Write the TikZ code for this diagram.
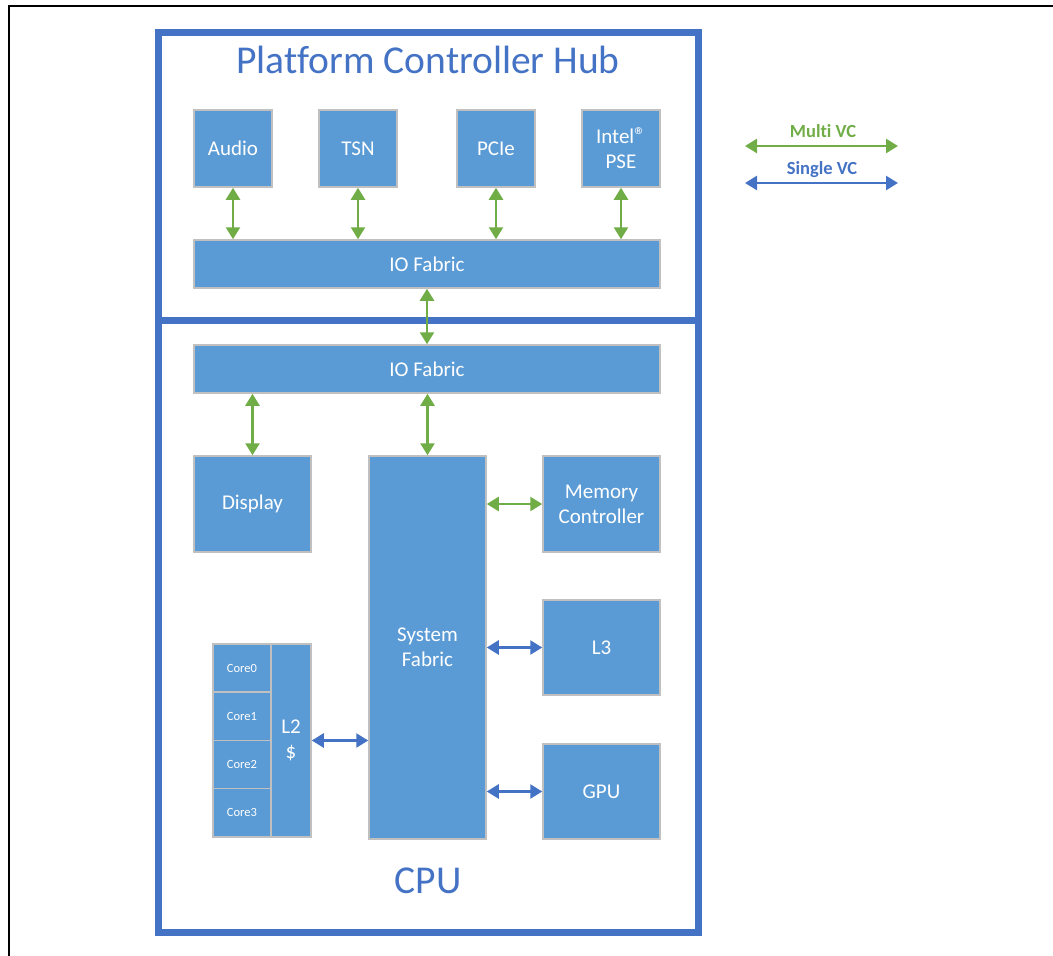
\documentclass[tikz,border=0pt]{standalone}
\usepackage{fontspec}
\setmainfont{Carlito}[Ligatures=NoCommon]
\usepackage{xcolor}
\usetikzlibrary{positioning,calc,arrows.meta}
\definecolor{boxblue}{HTML}{5B9BD5}
\definecolor{lineblue}{HTML}{4472C4}
\definecolor{vcgreen}{HTML}{70AD47}
\definecolor{boxedge}{HTML}{C0C0C0}

\begin{document}
\begin{tikzpicture}[x=1pt,y=-1pt,
    blk/.style={fill=boxblue, draw=boxedge, line width=1.5pt, text=white, inner sep=0pt,
        align=center, font=\fontsize{21}{25}\selectfont},
    core/.style={blk, minimum width=58pt, minimum height=48.25pt, font=\fontsize{12.5}{15}\selectfont},
    multivc/.style={vcgreen, line width=2.5pt,
        {Triangle[length=12pt,width=14pt]}-{Triangle[length=12pt,width=14pt]}},
    singlevc/.style={lineblue, line width=2.5pt,
        {Triangle[length=12pt,width=14pt]}-{Triangle[length=12pt,width=14pt]}},
    outline/.style={lineblue, line width=7pt},
    title/.style={text=lineblue, font=\fontsize{39.5}{42}\selectfont},
    legend/.style={font=\bfseries\fontsize{18.5}{20}\selectfont}]
    \useasboundingbox (0,0) rectangle (1053,956);

    % Frame
    \draw[line width=2.5pt] (9,960) -- (9,6) -- (1060,6);

    % PCH and CPU outlines
    \draw[outline] (158,32) rectangle (698,932);
    \draw[outline] (158,320) -- (698,320);
    \node[title] (pchtitle) at (428,60) {Platform Controller Hub};
    \node[title] (cputitle) at (428,881) {CPU};

    % PCH blocks
    \node[blk, minimum width=78pt, minimum height=77pt] (audio) at (233,148.5) {Audio};
    \node[blk, minimum width=78pt, minimum height=77pt] (tsn) at (358,148.5) {TSN};
    \node[blk, minimum width=78pt, minimum height=77pt] (pcie) at (496,148.5) {PCIe};
    \node[blk, minimum width=78pt, minimum height=77pt] (pse) at (621,148.5)
        {Intel{\fontsize{23}{23}\selectfont ®}\\PSE};
    \node[blk, minimum width=466pt, minimum height=48pt] (iotop) at (427,264) {IO Fabric};

    % CPU blocks
    \node[blk, minimum width=466pt, minimum height=48pt] (iobot) at (427,369) {IO Fabric};
    \node[blk, minimum width=117pt, minimum height=96pt] (display) at (252.5,504) {Display};
    \node[blk, minimum width=117pt, minimum height=383pt] (sysfab) at (427.5,647.5) {System\\Fabric};
    \node[blk, minimum width=117pt, minimum height=96pt] (memctl) at (601.5,504) {Memory\\Controller};
    \node[blk, minimum width=117pt, minimum height=95pt] (lthree) at (601.5,647.5) {L3};
    \node[blk, minimum width=117pt, minimum height=95pt] (gpu) at (601.5,791.5) {GPU};

    % Cores and L2
    \node[core] (core0) at (242,668) {Core0};
    \node[core, below=-1.5pt of core0] (core1) {Core1};
    \node[core, below=-1.5pt of core1] (core2) {Core2};
    \node[core, below=-1.5pt of core2] (core3) {Core3};
    \node[blk, minimum width=40pt, minimum height=193pt] (ltwo) at (291,740.5) {L2\\\$};

    % Connections
    \draw[multivc] (audio.south) -- (audio.south |- iotop.north);
    \draw[multivc] (tsn.south) -- (tsn.south |- iotop.north);
    \draw[multivc] (pcie.south) -- (pcie.south |- iotop.north);
    \draw[multivc] (pse.south) -- (pse.south |- iotop.north);
    \draw[multivc] (iotop.south) -- (iobot.north);
    \draw[multivc] (display.north) -- (display.north |- iobot.south);
    \draw[multivc] (sysfab.north) -- (sysfab.north |- iobot.south);
    \draw[multivc] (memctl.west) -- (memctl.west -| sysfab.east);
    \draw[singlevc] (lthree.west) -- (lthree.west -| sysfab.east);
    \draw[singlevc] (gpu.west) -- (gpu.west -| sysfab.east);
    \draw[singlevc] (ltwo.east) -- (ltwo.east -| sysfab.west);

    % Legend
    \coordinate (mvcl) at (745,146);
    \coordinate (mvcr) at (898,146);
    \coordinate (svcl) at (745,183);
    \coordinate (svcr) at (898,183);
    \draw[multivc] (mvcl) -- (mvcr);
    \draw[singlevc] (svcl) -- (svcr);
    \node[legend, text=vcgreen] (mvctext) at (823,131) {Multi VC};
    \node[legend, text=lineblue] (svctext) at (822,170) {Single VC};
\end{tikzpicture}
\end{document}
